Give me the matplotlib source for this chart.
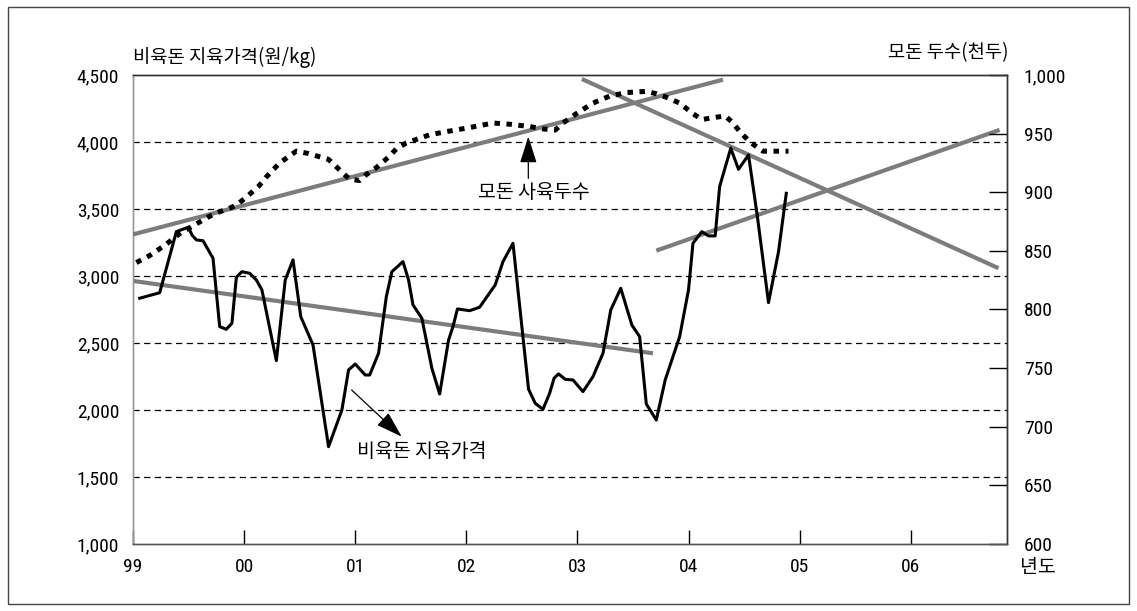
import matplotlib
matplotlib.use("Agg")
import matplotlib.pyplot as plt
from matplotlib import font_manager
from matplotlib.patches import Rectangle
from matplotlib.ticker import FuncFormatter

# narrow latin font for the numbers, whichever is installed
installed = {f.name for f in font_manager.fontManager.ttflist}
narrow = next((n for n in ['Liberation Sans Narrow', 'Arial Narrow', 'Roboto Condensed',
                           'Archivo Narrow', 'PT Sans Narrow', 'Liberation Sans']
               if n in installed), 'DejaVu Sans')
plt.rcParams['font.family'] = [narrow, 'Noto Sans CJK KR', 'DejaVu Sans']
KR = ['Noto Sans CJK KR', 'DejaVu Sans']

# x is years since 1999
year_labels = ['99', '00', '01', '02', '03', '04', '05', '06']

# 비육돈 지육가격 (원/kg), left axis
price_t = [0.06, 0.24, 0.39, 0.50, 0.53, 0.57, 0.63, 0.72, 0.78, 0.84, 0.89, 0.93, 0.98,
           1.05, 1.11, 1.16, 1.29, 1.37, 1.44, 1.51, 1.62, 1.76, 1.88, 1.94, 2.00, 2.09,
           2.13, 2.21, 2.28, 2.33, 2.43, 2.48, 2.52, 2.60, 2.69, 2.76, 2.84, 2.88, 2.92,
           3.03, 3.12, 3.26, 3.33, 3.42, 3.56, 3.62, 3.69, 3.75, 3.79, 3.83, 3.89, 3.96,
           4.05, 4.14, 4.23, 4.30, 4.39, 4.49, 4.56, 4.62, 4.71, 4.79, 4.92, 5.00, 5.04,
           5.12, 5.18, 5.24, 5.28, 5.38, 5.45, 5.54, 5.62, 5.72, 5.81, 5.88]
price = [2834, 2875, 3331, 3364, 3306, 3269, 3263, 3132, 2622, 2602, 2647, 2990, 3032,
         3020, 2970, 2896, 2368, 2970, 3120, 2696, 2485, 1726, 2000, 2299, 2343, 2261,
         2261, 2423, 2846, 3032, 3107, 2970, 2784, 2684, 2311, 2119, 2522, 2622, 2754,
         2741, 2767, 2933, 3107, 3244, 2155, 2050, 2005, 2125, 2237, 2269, 2229, 2224,
         2137, 2249, 2423, 2746, 2908, 2634, 2547, 2045, 1925, 2224, 2547, 2896, 3244,
         3331, 3299, 3299, 3667, 3953, 3796, 3903, 3443, 2801, 3181, 3617]

# 모돈 사육두수 (천두), right axis
sow_t = [0.03, 0.15, 0.29, 0.41, 0.57, 0.68, 0.77, 0.86, 0.93, 1.01, 1.13, 1.20, 1.32,
         1.47, 1.58, 1.65, 1.76, 1.86, 1.95, 2.04, 2.10, 2.19, 2.30, 2.37, 2.46, 2.55,
         2.67, 2.84, 3.02, 3.24, 3.39, 3.57, 3.69, 3.80, 3.87, 3.99, 4.14, 4.29, 4.44,
         4.62, 4.71, 4.80, 4.92, 5.04, 5.12, 5.25, 5.33, 5.39, 5.46, 5.55, 5.67, 5.79, 5.90]
sows = [840, 846, 855, 864, 873, 879, 883, 886, 889, 895, 905, 913, 925,
        935, 933, 931, 928, 919, 911, 910, 915, 921, 930, 937, 942, 945,
        949, 952, 955, 959, 958, 956, 954, 953, 959, 967, 976, 982, 985,
        986, 984, 981, 976, 967, 962, 964, 965, 960, 952, 943, 935, 935, 935]

# trend lines (start/end)
sow_trend_t, sow_trend = [0.0, 5.31], [864, 996]
price_trend1_t, price_trend1 = [0.0, 4.68], [2963, 2423]
price_trend2_t, price_trend2 = [4.04, 7.79], [4470, 3058]
price_trend3_t, price_trend3 = [4.71, 7.80], [3189, 4090]

fig = plt.figure(figsize=(11.37, 6.11), dpi=100)
ax = fig.add_axes([0.117, 0.1097, 0.7687, 0.7676])
ax2 = ax.twinx()

ax.set_xlim(0, 7.867)
ax.set_ylim(1000, 4500)
ax2.set_ylim(600, 1000)

comma = FuncFormatter(lambda v, p: f'{int(v):,}')
ax.set_yticks(range(1000, 4501, 500))
ax.yaxis.set_major_formatter(comma)
ax2.set_yticks(range(600, 1001, 50))
ax2.yaxis.set_major_formatter(comma)
ax.set_xticks(range(len(year_labels)))
ax.set_xticklabels(year_labels)

ax.tick_params(axis='y', length=0, pad=10, labelsize=14)
ax.tick_params(axis='x', direction='in', length=10, width=1, pad=10, labelsize=14)
ax2.tick_params(axis='y', direction='in', length=13, width=1, pad=12, labelsize=14)

for y in range(1500, 4001, 500):
    ax.axhline(y, color='black', lw=0.9, linestyle=(0, (5, 3.5)), zorder=1)

for a in (ax, ax2):
    a.spines['top'].set_color('#333333')
    a.spines['left'].set_color('#999999')
    a.spines['bottom'].set_color('#555555')
    a.spines['right'].set_color('#333333')
    for s in a.spines.values():
        s.set_linewidth(1.0)

trend_kw = dict(color='#7c7c7c', lw=3, solid_capstyle='butt', zorder=3)
ax.plot(price_trend1_t, price_trend1, **trend_kw)
ax.plot(price_trend2_t, price_trend2, **trend_kw)
ax.plot(price_trend3_t, price_trend3, **trend_kw)
ax2.plot(sow_trend_t, sow_trend, **trend_kw)

ax.plot(price_t, price, color='black', lw=2.2, zorder=4)
ax2.plot(sow_t, sows, color='black', lw=3.6, linestyle=(0, (1.1, 1.3)),
         dash_capstyle='butt', zorder=4)

# annotations
arrow_kw = dict(arrowstyle='-|>,head_length=1.1,head_width=0.35', color='black',
                lw=0.9, mutation_scale=15, shrinkA=0, shrinkB=0)
ax.annotate('', xy=(3.558, 4040), xytext=(3.558, 3729), arrowprops=arrow_kw, zorder=6)
ax.text(3.605, 3620, '모돈 사육두수', family=KR, fontsize=14, ha='center', va='center')
ax.annotate('', xy=(2.418, 1801), xytext=(1.968, 2149), arrowprops=arrow_kw, zorder=6)
ax.text(2.597, 1689, '비육돈 지육가격', family=KR, fontsize=14, ha='center', va='center')

fig.text(133 / 1137, 1 - 57 / 611, '비육돈 지육가격(원/kg)', family=KR, fontsize=13.5,
         ha='left', va='center')
fig.text(1008 / 1137, 1 - 53 / 611, '모돈 두수(천두)', family=KR, fontsize=13.5,
         ha='right', va='center')
fig.text(1020 / 1137, 1 - 568 / 611, '년도', family=KR, fontsize=14, ha='left', va='center')

fig.patches.append(Rectangle((8 / 1137, 7 / 611), 1121 / 1137, 597 / 611,
                             transform=fig.transFigure, fill=False, edgecolor='#444444', lw=1))

fig.savefig('out.png', dpi=100)
